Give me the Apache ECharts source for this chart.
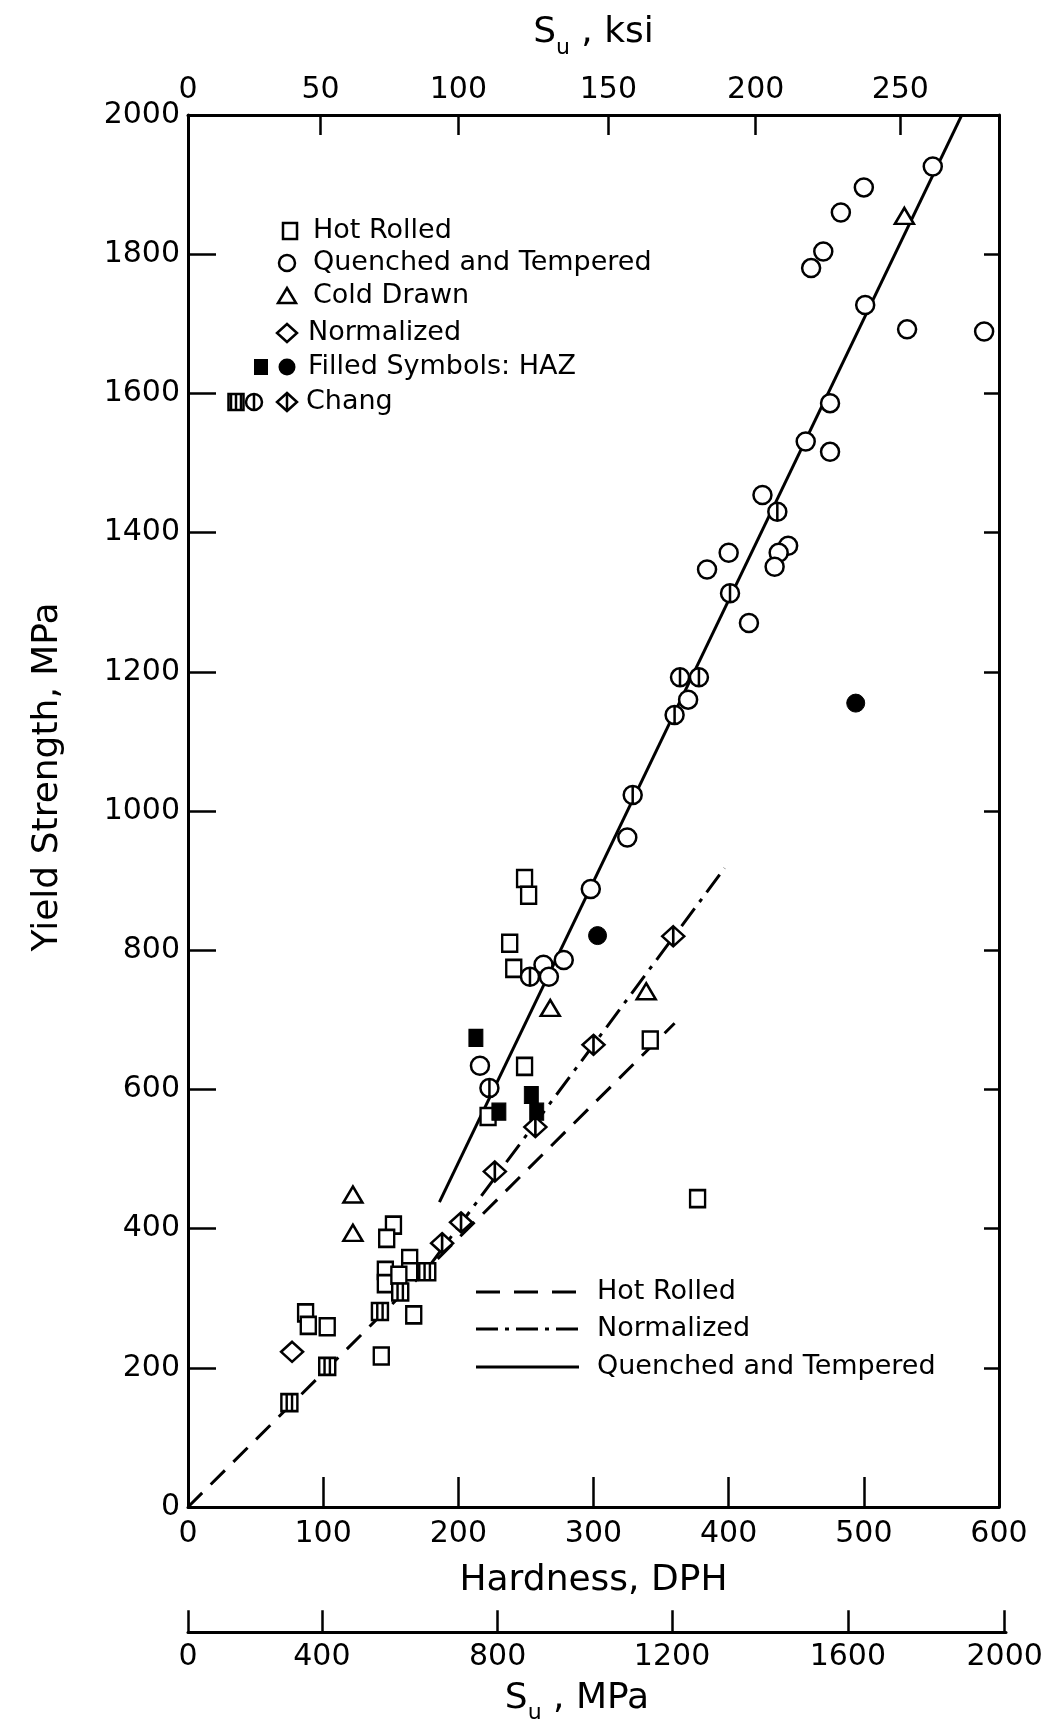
<!DOCTYPE html>
<html>
<head>
<meta charset="utf-8">
<title>Yield strength vs hardness</title>
<script src="https://cdn.jsdelivr.net/npm/echarts@6/dist/echarts.min.js"></script>
<style>
  html, body { margin: 0; padding: 0; background: #fff; }
  #chart { width: 1058px; height: 1722px; }
</style>
</head>
<body>
<div id="chart"></div>
<script>
// ---------------------------------------------------------------------------
// Data: [hardness DPH, yield strength MPa]
// ---------------------------------------------------------------------------
const hotRolledPts = [
  [87, 279], [89, 261], [103, 259], [152, 405], [147, 386], [146, 340], [146, 321],
  [164, 357], [164, 338], [156, 333], [167, 276], [143, 217], [222, 561], [249, 903],
  [252, 879], [238, 810], [241, 774], [249, 633], [342, 671], [377, 443]
];
const quenchedPts = [
  [551, 1926], [500, 1896], [483, 1860], [470, 1804], [461, 1780], [501, 1727],
  [532, 1692], [589, 1689], [475, 1586], [457, 1531], [475, 1516], [425, 1454],
  [444, 1381], [437, 1371], [434, 1351], [400, 1371], [384, 1347], [415, 1270],
  [370, 1160], [325, 962], [298, 888], [278, 786], [263, 779], [267, 762], [216, 634]
];
const coldDrawnPts = [[122, 449], [122, 394], [268, 717], [339, 741], [530, 1855]];
const normalizedPts = [[77, 223]];
const hazSquarePts = [[213, 674], [230, 568], [254, 592], [258, 568]];
const hazCirclePts = [[303, 821], [494, 1155]];
const changSquarePts = [[75, 150], [103, 202], [142, 281], [157, 309], [177, 338]];
const changCirclePts = [[436, 1430], [401, 1313], [364, 1192], [378, 1192], [360, 1138], [329, 1023], [253, 762], [223, 602]];
const changDiamondPts = [[188, 379], [202, 409], [227, 482], [257, 546], [300, 664], [359, 820]];

// fitted lines
const hotRolledFit = [[0, 0], [360, 695]];
const normalizedFit = [[180, 350], [397, 918]];
const quenchedFit = [[186, 438], [572, 1998]];

// secondary scales: label values and the hardness they line up with
const ksiLabels = [0, 50, 100, 150, 200, 250];
const ksiAtHardness = [0, 98, 200, 311, 420, 527];
const suMpaLabels = [0, 400, 800, 1200, 1600, 2000];
const suMpaAtHardness = [0, 99, 229, 358, 488, 604];

const FONT = '"DejaVu Sans", sans-serif';
const black = '#000';

const chart = echarts.init(document.getElementById('chart'), null, { renderer: 'canvas' });

const openStyle = { color: '#fff', borderColor: black, borderWidth: 2.5, opacity: 1 };
const filledStyle = { color: black, borderColor: black, borderWidth: 1, opacity: 1 };
const changSquare = 'path://M0,0L12,0L12,14L0,14Z M4,0L4,14 M8,0L8,14';
const changCircle = 'path://M0,7A7,7 0 1,0 14,7A7,7 0 1,0 0,7Z M7,0L7,14';
const changDiamond = 'path://M7,0L14,7L7,14L0,7Z M7,0L7,14';

const scatter = (name, data, symbol, size, style) => ({
  name, type: 'scatter', data, symbol, symbolSize: size,
  itemStyle: style, z: 5, silent: true
});
const fitLine = (name, data, dash) => ({
  name, type: 'line', data, symbol: 'none', z: 2, silent: true,
  lineStyle: { color: black, width: 3, type: dash }
});

const subRich = {
  s: { fontFamily: FONT, fontSize: 36, lineHeight: 44, verticalAlign: 'top', color: black },
  u: { fontFamily: FONT, fontSize: 22, lineHeight: 22, verticalAlign: 'bottom', color: black }
};

const tickLabel = { color: black, fontFamily: FONT, fontSize: 30 };

// legend helpers (layout only)
const legendFont = '27px ' + FONT;
const txt = (x, y, text) => ({ type: 'text', x, y, style: { text, font: legendFont, fill: black, verticalAlign: 'middle' } });
const stroke = { stroke: black, lineWidth: 2.5 };
const openRect = (cx, cy, w, h) => ({ type: 'rect', shape: { x: cx - w / 2, y: cy - h / 2, width: w, height: h }, style: { fill: '#fff', ...stroke } });
const vline = (x, y1, y2) => ({ type: 'line', shape: { x1: x, y1, x2: x, y2 }, style: { ...stroke } });
const hline = (x1, x2, y, dash) => ({ type: 'line', shape: { x1, y1: y, x2, y2: y }, style: { stroke: black, lineWidth: 3, lineDash: dash } });

const legendGraphics = [
  openRect(290, 231, 14, 16), txt(313, 231, 'Hot Rolled'),
  { type: 'circle', shape: { cx: 287, cy: 263, r: 8 }, style: { fill: '#fff', ...stroke } }, txt(313, 263, 'Quenched and Tempered'),
  { type: 'polygon', shape: { points: [[287, 288], [296, 303], [278, 303]] }, style: { fill: '#fff', ...stroke } }, txt(313, 296, 'Cold Drawn'),
  { type: 'polygon', shape: { points: [[287, 324], [297, 333], [287, 342], [277, 333]] }, style: { fill: '#fff', ...stroke } }, txt(308, 333, 'Normalized'),
  { type: 'rect', shape: { x: 254, y: 359, width: 14, height: 16 }, style: { fill: black } },
  { type: 'circle', shape: { cx: 287, cy: 367, r: 8.5 }, style: { fill: black } }, txt(308, 367, 'Filled Symbols: HAZ'),
  openRect(236, 402, 15, 16), vline(241, 394, 410), vline(236, 394, 410), vline(231, 394, 410),
  { type: 'circle', shape: { cx: 254, cy: 402, r: 8 }, style: { fill: '#fff', ...stroke } }, vline(254, 394, 410),
  { type: 'polygon', shape: { points: [[287, 393], [297, 402], [287, 411], [277, 402]] }, style: { fill: '#fff', ...stroke } }, vline(287, 393, 411),
  txt(306, 402, 'Chang'),
  hline(476, 579, 1292, [24, 14]), txt(597, 1292, 'Hot Rolled'),
  hline(476, 579, 1329, [22, 7, 4, 7]), txt(597, 1329, 'Normalized'),
  hline(476, 579, 1367, null), txt(597, 1367, 'Quenched and Tempered')
];

const option = {
  animation: false,
  backgroundColor: '#fff',
  grid: [
    { left: 188, top: 115, width: 811, height: 1392 },
    { left: 188, top: 1632, width: 818, height: 1 }
  ],
  xAxis: [
    {
      gridIndex: 0, type: 'value', position: 'bottom', min: 0, max: 600, interval: 100,
      name: 'Hardness, DPH', nameLocation: 'middle', nameGap: 56,
      nameTextStyle: { color: black, fontFamily: FONT, fontSize: 36 },
      axisLine: { show: true, onZero: false, lineStyle: { color: black, width: 3 } },
      axisTick: { show: true, inside: true, length: 30, lineStyle: { color: black, width: 2.5 } },
      axisLabel: { ...tickLabel, margin: 12, formatter: v => String(v) },
      splitLine: { show: false }
    },
    {
      gridIndex: 0, type: 'value', position: 'top', min: 0, max: 600,
      name: '{s|S}{u|u}{s| , ksi}', nameLocation: 'middle', nameGap: 56,
      nameTextStyle: { rich: subRich },
      axisLine: { show: true, onZero: false, lineStyle: { color: black, width: 3 } },
      axisTick: { show: true, inside: true, length: 20, customValues: ksiAtHardness, lineStyle: { color: black, width: 2.5 } },
      axisLabel: {
        ...tickLabel, margin: 10, customValues: ksiAtHardness,
        formatter: v => String(ksiLabels[ksiAtHardness.indexOf(v)])
      },
      splitLine: { show: false }
    },
    {
      gridIndex: 1, type: 'value', position: 'bottom', min: 0, max: 605,
      name: '{s|S}{u|u}{s| , MPa}', nameLocation: 'middle', nameGap: 48,
      nameTextStyle: { rich: subRich, padding: [0, 40, 0, 0] },
      axisLine: { show: true, onZero: false, lineStyle: { color: black, width: 3 } },
      axisTick: { show: true, inside: true, length: 22, customValues: suMpaAtHardness, lineStyle: { color: black, width: 2.5 } },
      axisLabel: {
        ...tickLabel, margin: 10, customValues: suMpaAtHardness,
        formatter: v => String(suMpaLabels[suMpaAtHardness.indexOf(v)])
      },
      splitLine: { show: false }
    }
  ],
  yAxis: [
    {
      gridIndex: 0, type: 'value', position: 'left', min: 0, max: 2000, interval: 200,
      name: 'Yield Strength, MPa', nameLocation: 'middle', nameGap: 122,
      nameTextStyle: { color: black, fontFamily: FONT, fontSize: 36, padding: [0, 0, 0, 68] },
      axisLine: { show: true, onZero: false, lineStyle: { color: black, width: 3 } },
      axisTick: { show: true, inside: true, length: 28, lineStyle: { color: black, width: 2.5 } },
      axisLabel: { ...tickLabel, margin: 8, formatter: v => String(v) },
      splitLine: { show: false }
    },
    {
      gridIndex: 0, type: 'value', position: 'right', min: 0, max: 2000, interval: 200,
      axisLine: { show: true, onZero: false, lineStyle: { color: black, width: 3 } },
      axisTick: { show: true, inside: true, length: 15, lineStyle: { color: black, width: 2.5 } },
      axisLabel: { show: false },
      splitLine: { show: false }
    },
    { gridIndex: 1, type: 'value', show: false, min: 0, max: 1 }
  ],
  graphic: legendGraphics,
  series: [
    fitLine('Hot Rolled fit', hotRolledFit, [20, 12]),
    fitLine('Normalized fit', normalizedFit, [22, 8, 4, 8]),
    fitLine('Quenched and Tempered fit', quenchedFit, 'solid'),
    scatter('Hot Rolled', hotRolledPts, 'rect', [15, 17], openStyle),
    scatter('Quenched and Tempered', quenchedPts, 'circle', 18, openStyle),
    scatter('Cold Drawn', coldDrawnPts, 'triangle', [19, 16], openStyle),
    scatter('Normalized', normalizedPts, 'diamond', [22, 20], openStyle),
    scatter('HAZ (hot rolled)', hazSquarePts, 'rect', [14, 17], filledStyle),
    scatter('HAZ (quenched and tempered)', hazCirclePts, 'circle', 18, filledStyle),
    scatter('Chang hot rolled', changSquarePts, changSquare, [16, 17], openStyle),
    scatter('Chang quenched and tempered', changCirclePts, changCircle, [18, 18], openStyle),
    scatter('Chang normalized', changDiamondPts, changDiamond, [22, 20], openStyle)
  ]
};

chart.setOption(option);
</script>
</body>
</html>
